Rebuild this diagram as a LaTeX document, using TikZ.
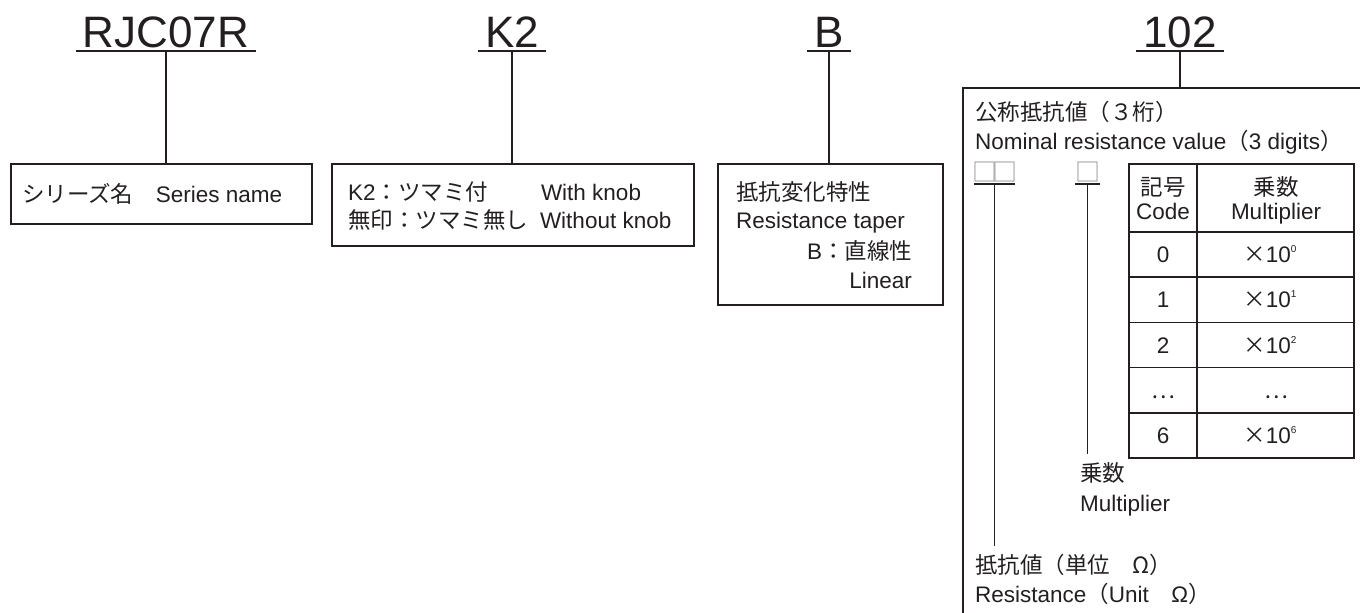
\documentclass[tikz,border=0pt]{standalone}
\usepackage{fontspec}
\setmainfont{Liberation Sans}
\newfontfamily\jpf{Noto Sans CJK JP}
\usetikzlibrary{calc}
\definecolor{ink}{RGB}{35,31,32}
\definecolor{sqgray}{RGB}{150,150,150}
\newcommand\mysup[1]{\raisebox{10pt}{\fontsize{10}{10}\selectfont #1}}
\newcommand\tms{{\jpf ×}}
\begin{document}
\begin{tikzpicture}[x=1pt,y=-1pt,
  txt/.style={inner sep=0pt,outer sep=0pt,text=ink,font=\fontsize{22.5}{26}\selectfont},
  ttl/.style={inner sep=0pt,outer sep=0pt,text=ink,font=\fontsize{44}{48}\selectfont},
  boxx/.style={draw=ink,line width=1.6pt,inner sep=0pt,anchor=north west},
  ln/.style={draw=ink,line width=1.6pt}]
\useasboundingbox (0,0) rectangle (1360,613);

% titles
\node[ttl,anchor=base] (t1) at (166,47) {RJC07R};
\node[ttl,anchor=base] (t2) at (512,47) {K2};
\node[ttl,anchor=base] (t3) at (829,47) {B};
\node[ttl,anchor=base] (t4) at (1180,47) {102};
\foreach \t in {t1,t2,t3,t4}{
  \draw[ln] ([xshift=-7pt,yshift=-4pt]\t.base west) -- ([xshift=7pt,yshift=-4pt]\t.base east);
  \coordinate (u\t) at ([yshift=-4pt]\t.base);
}

% boxes
\node[boxx,minimum width=301pt,minimum height=60pt] (b1) at (10,163) {};
\node[boxx,minimum width=362pt,minimum height=82pt] (b2) at (331,163) {};
\node[boxx,minimum width=225pt,minimum height=141pt] (b3) at (717,163) {};
\coordinate (b4sw) at (963,613);
\coordinate (b4nw) at (963,88);
\coordinate (b4ne) at (1360,88);
\draw[ln] (b4sw) -- (b4nw) -- (b4ne);

% connectors
\draw[ln] (ut1) -- (ut1 |- b1.north);
\draw[ln] (ut2) -- (ut2 |- b2.north);
\draw[ln] (ut3) -- (ut3 |- b3.north);
\draw[ln] (ut4) -- (ut4 |- b4nw);

% series box
\node[txt,anchor=base west] (s1) at (22,202) {{\jpf シリーズ名　}Series name};

% K2 box
\node[txt,anchor=base west] (k1) at (348,200) {K2{\jpf ：ツマミ付}};
\node[txt,anchor=base west] (k1e) at (541,200) {With knob};
\node[txt,anchor=base west] (k2) at (348,228) {{\jpf 無印：ツマミ無し}};
\node[txt,anchor=base west] (k2e) at (540,228) {Without knob};

% B box
\node[txt,anchor=base west] (r1) at (736,200) {{\jpf 抵抗変化特性}};
\node[txt,anchor=base west] (r2) at (736,228) {Resistance taper};
\node[txt,anchor=base east] (r3) at (912,259) {B{\jpf ：直線性}};
\node[txt,anchor=base east] (r4) at (912,288) {Linear};

% 102 box
\node[txt,anchor=base west] (n1) at (975,120) {{\jpf 公称抵抗値（３桁）}};
\node[txt,anchor=base west] (n2) at (975,149) {Nominal resistance value{\jpf （}3 digits{\jpf ）}};

\node[inner sep=0pt,outer sep=0pt,text=sqgray,font=\fontsize{25}{26}\selectfont,anchor=base west] (q1) at (972,181) {{\jpf □\kern-5pt□}};
\node[inner sep=0pt,outer sep=0pt,text=sqgray,font=\fontsize{25}{26}\selectfont,anchor=base west] (q2) at (1075,181) {{\jpf □}};
\draw[ln] ([xshift=2pt,yshift=-3pt]q1.base west) -- ([xshift=-2pt,yshift=-3pt]q1.base east);
\draw[ln] ([yshift=-3pt]q2.base west) -- ([yshift=-3pt]q2.base east);
\coordinate (v1) at ([yshift=-3pt]q1.base);
\coordinate (v2) at ([yshift=-3pt]q2.base);

\node[txt,anchor=base west] (p1) at (1080,481) {{\jpf 乗数}};
\node[txt,anchor=base west] (p2) at (1080,511) {Multiplier};
\node[txt,anchor=base west] (m1) at (975,573) {{\jpf 抵抗値（単位　Ω）}};
\node[txt,anchor=base west] (m2) at (975,602) {Resistance{\jpf （}Unit{\jpf 　}Ω{\jpf ）}};

\draw[ln] (v1) -- ($(v1 |- m1.north)+(0,-8)$);
\draw[ln] (v2) -- ($(v2 |- p1.north)+(0,-8)$);

% table
\draw[ln] (1129,164) rectangle (1354,458);
\draw[ln] (1197,164) -- (1197,458);
\foreach \y in {232,277.2,322.4,367.6,412.8} \draw[ln] (1129,\y) -- (1354,\y);
\node[txt,anchor=base] (h1) at (1163,195) {{\jpf 記号}};
\node[txt,anchor=base] (h2) at (1163,219) {Code};
\node[txt,anchor=base] (h3) at (1276,195) {{\jpf 乗数}};
\node[txt,anchor=base] (h4) at (1276,219) {Multiplier};
\node[txt,anchor=base] (c0) at (1163,262.6) {0};
\node[txt,anchor=base] (x0) at (1270,262.6) {\tms10\mysup{0}};
\node[txt,anchor=base] (c1) at (1163,307.8) {1};
\node[txt,anchor=base] (x1) at (1270,307.8) {\tms10\mysup{1}};
\node[txt,anchor=base] (c2) at (1163,353) {2};
\node[txt,anchor=base] (x2) at (1270,353) {\tms10\mysup{2}};
\node[txt,anchor=base] (c3) at (1163,398.2) {{\jpf …}};
\node[txt,anchor=base] (x3) at (1276,398.2) {{\jpf …}};
\node[txt,anchor=base] (c4) at (1163,443.4) {6};
\node[txt,anchor=base] (x4) at (1270,443.4) {\tms10\mysup{6}};
\end{tikzpicture}
\end{document}
